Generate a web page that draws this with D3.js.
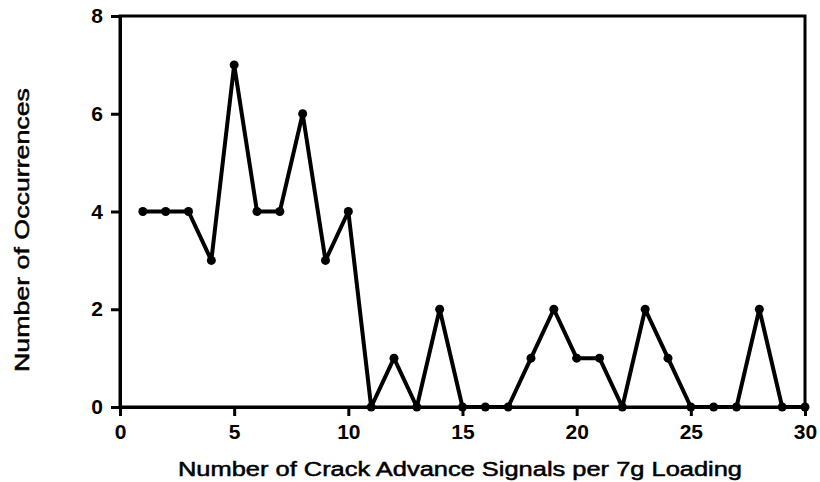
<!DOCTYPE html>
<html lang="en">
<head>
<meta charset="UTF-8">
<title>Crack Advance Signals</title>
<script src="https://d3js.org/d3.v7.min.js"></script>
<style>
  body { margin: 0; background: #fff; }
  text { font-family: 'Liberation Sans', Arial, sans-serif; fill: #000; }
  .tick text { font-size: 21px; font-weight: bold; }
  .title { font-size: 20px; stroke: #000; stroke-width: 0.5px; }
</style>
</head>
<body>
<div id="chart"></div>
<script>
// signals per loading (x) and number of occurrences (y)
const signals = [1,2,3,4,5,6,7,8,9,10,11,12,13,14,15,16,17,18,19,20,21,22,23,24,25,26,27,28,29,30];
const occurrences = [4,4,4,3,7,4,4,6,3,4,0,1,0,2,0,0,0,1,2,1,1,0,2,1,0,0,0,2,0,0];
const xTicks = [0,5,10,15,20,25,30];
const yTicks = [0,2,4,6,8];

const width = 820, height = 482;
const margin = {left: 120, right: 15, top: 16, bottom: 75};

const svg = d3.select("#chart").append("svg")
    .attr("width", width)
    .attr("height", height);

const x = d3.scaleLinear().domain([0, 30]).range([margin.left, width - margin.right]);
const y = d3.scaleLinear().domain([0, 8]).range([height - margin.bottom, margin.top]);

// frame
svg.append("rect")
    .attr("x", x(0)).attr("y", y(8))
    .attr("width", x(30) - x(0)).attr("height", y(0) - y(8))
    .attr("fill", "none").attr("stroke", "#000").attr("stroke-width", 3);

const xAxis = svg.append("g")
    .attr("transform", "translate(0," + y(0) + ")")
    .call(d3.axisBottom(x).tickValues(xTicks).tickSize(9).tickPadding(8));
const yAxis = svg.append("g")
    .attr("transform", "translate(" + x(0) + ",0)")
    .call(d3.axisLeft(y).tickValues(yTicks).tickSize(9).tickPadding(8));

[xAxis, yAxis].forEach(a => {
    a.select(".domain").attr("stroke-width", 3);
    a.selectAll(".tick line").attr("stroke-width", 3);
});

const data = signals.map((s, i) => ({x: s, y: occurrences[i]}));

svg.append("path")
    .datum(data)
    .attr("fill", "none")
    .attr("stroke", "#000")
    .attr("stroke-width", 4)
    .attr("stroke-linejoin", "round")
    .attr("d", d3.line().x(d => x(d.x)).y(d => y(d.y)));

svg.append("g").selectAll("circle")
    .data(data)
    .enter().append("circle")
    .attr("cx", d => x(d.x))
    .attr("cy", d => y(d.y))
    .attr("r", 4.5)
    .attr("fill", "#000");

svg.append("text")
    .attr("class", "title")
    .attr("x", 178)
    .attr("y", 476)
    .attr("textLength", 564)
    .attr("lengthAdjust", "spacingAndGlyphs")
    .text("Number of Crack Advance Signals per 7g Loading");

svg.append("text")
    .attr("class", "title")
    .attr("transform", "translate(29,372) rotate(-90)")
    .attr("textLength", 284)
    .attr("lengthAdjust", "spacingAndGlyphs")
    .text("Number of Occurrences");
</script>
</body>
</html>
